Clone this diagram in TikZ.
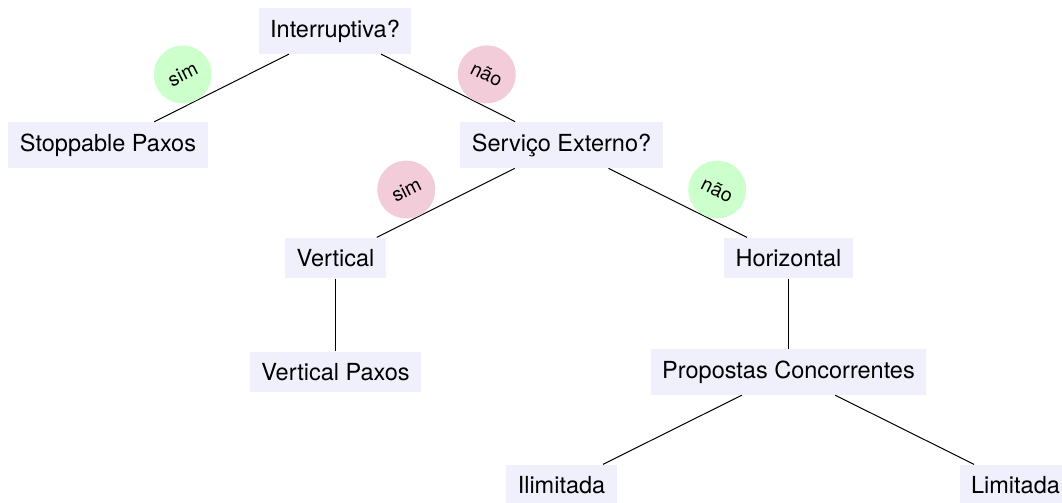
\documentclass[tikz,border=0pt]{standalone}
\usepackage{fontspec}
\setmainfont{TeX Gyre Heros}
\definecolor{boxfill}{RGB}{240,240,253}
\definecolor{yesfill}{RGB}{204,255,204}
\definecolor{nofill}{RGB}{242,204,217}
\begin{document}
\begin{tikzpicture}[x=0.5pt,y=-0.5pt,
  box/.style={fill=boxfill, inner sep=5.75pt, font=\fontsize{11.75}{14}\selectfont},
  lbl/.style={circle, minimum size=29pt, inner sep=0pt,
              font=\fontsize{9.75}{12}\selectfont, pos=0.69, sloped, above},
  yeslbl/.style={lbl, fill=yesfill},
  nolbl/.style={lbl, fill=nofill},
  link/.style={line width=0.5pt}]
\useasboundingbox (0,0) rectangle (1062,503);

% decision tree nodes
\node[box] (interr)   at (335,31)     {Interruptiva?};
\node[box] (stop)     at (108,145)    {Stoppable Paxos};
\node[box] (servico)  at (561.5,145)  {Serviço Externo?};
\node[box] (vert)     at (335.5,258)  {Vertical};
\node[box] (horiz)    at (788.5,258)  {Horizontal};
\node[box] (vpaxos)   at (335.5,372)  {Vertical Paxos};
\node[box] (propostas)at (788.5,372)  {Propostas Concorrentes};
\node[box] (ilim)     at (561.5,485)  {Ilimitada};
\node[box] (lim)      at (1015.5,485) {Limitada};

% branches
\draw[link] (interr) -- node[yeslbl] {sim} (stop);
\draw[link] (interr) -- node[nolbl] {não} (servico);
\draw[link] (servico) -- node[nolbl] {sim} (vert);
\draw[link] (servico) -- node[yeslbl] {não} (horiz);
\draw[link] (vert) -- (vpaxos);
\draw[link] (horiz) -- (propostas);
\draw[link] (propostas) -- (ilim);
\draw[link] (propostas) -- (lim);
\end{tikzpicture}
\end{document}
